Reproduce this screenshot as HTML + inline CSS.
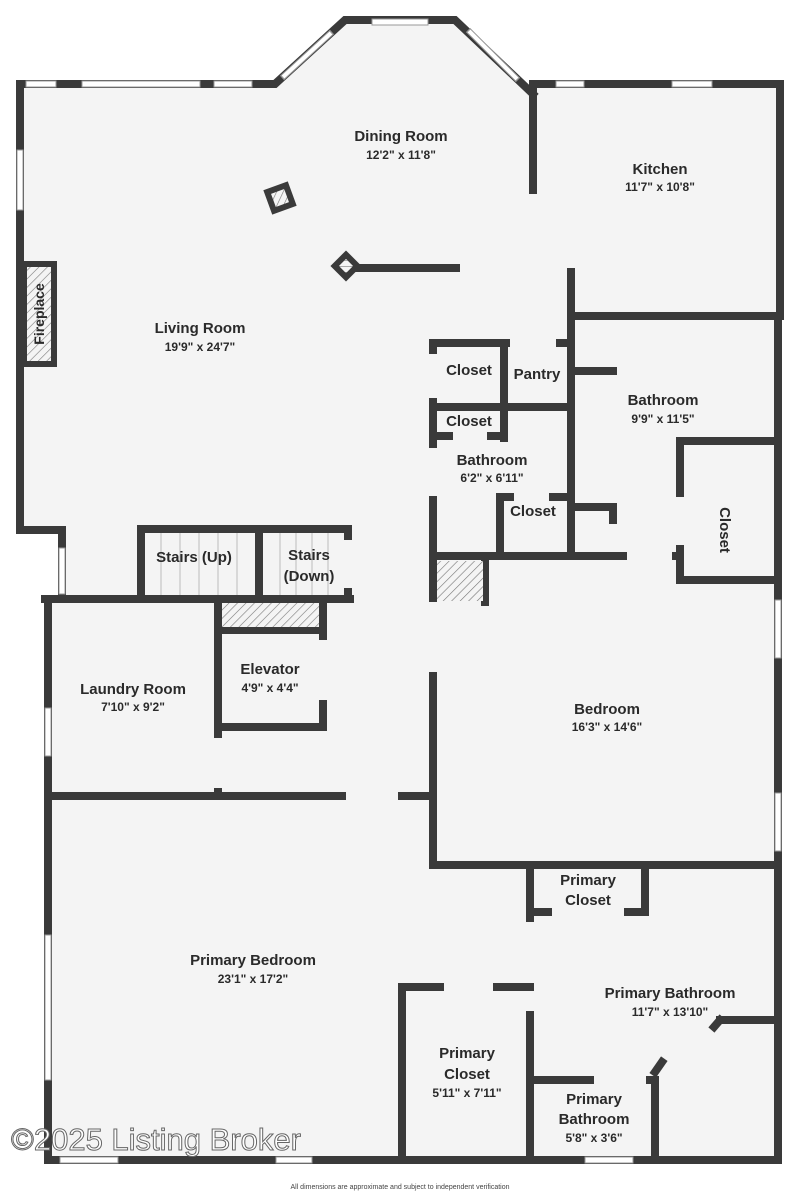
<!DOCTYPE html>
<html><head><meta charset="utf-8"><style>
html,body{margin:0;padding:0;background:#fff;}
svg{display:block;}
text{font-family:"Liberation Sans",sans-serif;font-weight:bold;fill:#2a2a2a;text-anchor:middle;}
.n{font-size:15px;}
.d{font-size:12px;}
</style></head><body>
<svg width="800" height="1194" viewBox="0 0 800 1194" xmlns="http://www.w3.org/2000/svg">
<defs>
<pattern id="h" width="6" height="6" patternUnits="userSpaceOnUse" patternTransform="rotate(45)">
<rect width="6" height="6" fill="#f4f4f4"/><line x1="0" y1="0" x2="0" y2="6" stroke="#777" stroke-width="1.2"/>
</pattern>
</defs>
<rect width="800" height="1194" fill="#fff"/>
<polygon points="20,84 275,84 345,20 455,20 533,92 533,84 780,84 780,862 778,1160 48,1160 48,598 62,598 62,530 20,530" fill="#f4f4f4"/>
<g stroke="#3a3a3a" stroke-width="8" fill="none" stroke-linecap="square">
<!-- outer top -->
<path d="M20,84 H275 L345,20 H455 L533,94"/>
<path d="M533,84 H780 V312"/>
<path d="M533,84 V190"/>
<path d="M20,84 V530 H62 V598"/>
<!-- living pillars -->
<path d="M350,268 H456"/>
<!-- kitchen/bath -->
<path d="M571,272 V556"/>
<path d="M571,316 H780"/>
<path d="M778,316 V441"/>
<path d="M571,371 H613"/>
<!-- closet cluster -->
<path d="M433,343 H506"/>
<path d="M560,343 H571"/>
<path d="M433,343 V350"/>
<path d="M433,402 V444"/>
<path d="M433,500 V598"/>
<path d="M433,676 V865"/>
<path d="M504,343 V438"/>
<path d="M433,407 H571"/>
<path d="M433,436 H449"/>
<path d="M491,436 H504"/>
<path d="M500,497 V556"/>
<path d="M500,497 H510"/>
<path d="M553,497 H571"/>
<path d="M571,507 H613 V520"/>
<path d="M433,556 H623"/>
<path d="M676,556 H680"/>
<path d="M680,441 H778 V580"/>
<path d="M680,441 V493"/>
<path d="M680,549 V580 H778"/>
<!-- bedroom -->
<path d="M778,580 V862"/>
<path d="M485,560 V602"/>
<path d="M433,865 H778"/>
<!-- stairs -->
<path d="M141,529 H348"/>
<path d="M141,529 V598"/>
<path d="M259,529 V598"/>
<path d="M348,529 V536"/>
<path d="M348,592 V598"/>
<path d="M45,599 H350"/>
<!-- laundry / elevator -->
<path d="M48,599 V1160 H778 V865"/>
<path d="M218,599 V734"/>
<path d="M218,792 V796"/>
<path d="M218,630 H323"/>
<path d="M323,603 V636"/>
<path d="M323,704 V727 H218"/>
<path d="M48,796 H342"/>
<path d="M402,796 H433"/>
<!-- primary -->
<path d="M530,865 V918"/>
<path d="M530,1015 V1160"/>
<path d="M530,868 V912 H548"/>
<path d="M628,912 H645 V868"/>
<path d="M402,987 V1160"/>
<path d="M402,987 H440"/>
<path d="M497,987 H530"/>
<path d="M533,1080 H590"/>
<path d="M650,1080 H655 V1160"/>
<path d="M655,1072 L662,1062"/>
<path d="M720,1020 H778"/>
<path d="M720,1020 L714,1027"/>
</g>
<!-- fireplace -->
<rect x="24" y="264" width="30" height="100" fill="url(#h)" stroke="#3a3a3a" stroke-width="6"/>
<text x="0" y="0" class="n" transform="translate(44,314) rotate(-90)" style="font-size:14px">Fireplace</text>
<!-- pillars -->
<g transform="translate(280,198) rotate(-20)"><rect x="-10" y="-10" width="20" height="20" fill="url(#h)" stroke="#3a3a3a" stroke-width="6"/></g>
<g transform="translate(346,266) rotate(45)"><rect x="-8" y="-8" width="16" height="16" fill="url(#h)" stroke="#3a3a3a" stroke-width="6"/></g>
<!-- hatches -->
<rect x="437" y="561" width="46" height="40" fill="url(#h)"/>
<rect x="222" y="603" width="97" height="24" fill="url(#h)"/>
<!-- stair treads -->
<g stroke="#bbb" stroke-width="1">
<line x1="161" y1="533" x2="161" y2="595"/><line x1="180" y1="533" x2="180" y2="595"/><line x1="199" y1="533" x2="199" y2="595"/><line x1="218" y1="533" x2="218" y2="595"/><line x1="237" y1="533" x2="237" y2="595"/>
<line x1="280" y1="533" x2="280" y2="595"/><line x1="296" y1="533" x2="296" y2="595"/><line x1="312" y1="533" x2="312" y2="595"/><line x1="328" y1="533" x2="328" y2="595"/>
</g>
<!-- windows -->
<g fill="#fff" stroke="#999" stroke-width="1">
<rect x="26" y="81" width="30" height="6"/><rect x="82" y="81" width="118" height="6"/><rect x="214" y="81" width="38" height="6"/>
<rect x="372" y="19" width="56" height="6"/>
<rect x="556" y="81" width="28" height="6"/><rect x="672" y="81" width="40" height="6"/>
<rect x="17" y="150" width="6" height="60"/>
<rect x="59" y="548" width="6" height="46"/>
<rect x="45" y="708" width="6" height="48"/>
<rect x="45" y="935" width="6" height="145"/>
<rect x="60" y="1157" width="58" height="6"/><rect x="276" y="1157" width="36" height="6"/><rect x="585" y="1157" width="48" height="6"/>
<rect x="775" y="600" width="6" height="58"/><rect x="775" y="793" width="6" height="58"/>
</g>
<g stroke="#999" stroke-width="6" stroke-linecap="butt">
<line x1="282" y1="78" x2="332" y2="32"/><line x1="468" y1="30" x2="518" y2="80"/>
</g>
<g stroke="#fff" stroke-width="4">
<line x1="283" y1="77" x2="331" y2="33"/><line x1="469" y1="31" x2="517" y2="79"/>
</g>
<!-- labels -->
<text x="401" y="141" class="n">Dining Room</text><text x="401" y="159" class="d">12'2" x 11'8"</text>
<text x="660" y="174" class="n">Kitchen</text><text x="660" y="191" class="d">11'7" x 10'8"</text>
<text x="200" y="333" class="n">Living Room</text><text x="200" y="351" class="d">19'9" x 24'7"</text>
<text x="469" y="375" class="n">Closet</text><text x="537" y="379" class="n">Pantry</text>
<text x="469" y="426" class="n">Closet</text>
<text x="663" y="405" class="n">Bathroom</text><text x="663" y="423" class="d">9'9" x 11'5"</text>
<text x="492" y="465" class="n">Bathroom</text><text x="492" y="482" class="d">6'2" x 6'11"</text>
<text x="533" y="516" class="n">Closet</text>
<text x="0" y="0" class="n" transform="translate(720,530) rotate(90)">Closet</text>
<text x="194" y="562" class="n">Stairs (Up)</text>
<text x="309" y="560" class="n">Stairs</text><text x="309" y="581" class="n">(Down)</text>
<text x="270" y="674" class="n">Elevator</text><text x="270" y="692" class="d">4'9" x 4'4"</text>
<text x="133" y="694" class="n">Laundry Room</text><text x="133" y="711" class="d">7'10" x 9'2"</text>
<text x="607" y="714" class="n">Bedroom</text><text x="607" y="731" class="d">16'3" x 14'6"</text>
<text x="588" y="885" class="n">Primary</text><text x="588" y="905" class="n">Closet</text>
<text x="253" y="965" class="n">Primary Bedroom</text><text x="253" y="983" class="d">23'1" x 17'2"</text>
<text x="670" y="998" class="n">Primary Bathroom</text><text x="670" y="1016" class="d">11'7" x 13'10"</text>
<text x="467" y="1058" class="n">Primary</text><text x="467" y="1079" class="n">Closet</text><text x="467" y="1097" class="d">5'11" x 7'11"</text>
<text x="594" y="1104" class="n">Primary</text><text x="594" y="1124" class="n">Bathroom</text><text x="594" y="1142" class="d">5'8" x 3'6"</text>
<!-- watermark -->
<text x="156" y="1150" style="font-size:31px;font-weight:normal;fill:#fff;stroke:#666;stroke-width:1">©2025 Listing Broker</text>
<text x="400" y="1189" style="font-size:7px;font-weight:normal;fill:#444">All dimensions are approximate and subject to independent verification</text>
</svg>
</body></html>
